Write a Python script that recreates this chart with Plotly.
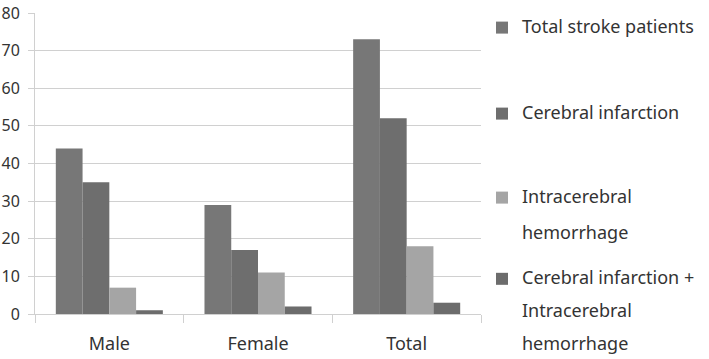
import plotly.graph_objects as go

categories = ["Male", "Female", "Total"]
series_lines = [
    ["Total stroke patients"],
    ["Cerebral infarction"],
    ["Intracerebral", "hemorrhage"],
    ["Cerebral infarction +", "Intracerebral", "hemorrhage"],
]
total_stroke = [44, 29, 73]
cerebral_infarction = [35, 17, 52]
intracerebral_hemorrhage = [7, 11, 18]
both = [1, 2, 3]
y_ticks = [0, 10, 20, 30, 40, 50, 60, 70, 80]

series_values = [total_stroke, cerebral_infarction, intracerebral_hemorrhage, both]
colors = ["#777777", "#6e6e6e", "#a5a5a5", "#6c6c6c"]
legend_ids = ["legend", "legend2", "legend3", "legend4"]

W, H = 709, 359
L, R, T, B = 35, 228, 13, 45
plot_h = H - T - B
plot_w = W - L - R

TEXT_SIZE = 18


def legend_name(lines):
    spans = ['<span style="font-size:%dpx">%s</span>' % (TEXT_SIZE, s) for s in lines]
    return "<br><br>".join(spans)


fig = go.Figure()
for lines, vals, col, lg in zip(series_lines, series_values, colors, legend_ids):
    fig.add_trace(go.Bar(x=categories, y=vals, name=legend_name(lines), marker_color=col,
                         marker_line_width=0, legend=lg))

font = dict(family="Noto Sans", size=TEXT_SIZE, color="#333333")
yfont = dict(family="Noto Sans", size=16, color="#333333")
legend_base_sizes = [14, 14, 14, 12.8]   # controls the line spacing of wrapped names
legend_centers = [27, 113, 197, 279]     # pixel y of first text line


def px(x):
    return (x - L) / plot_w


def py(y):
    return (H - B - y) / plot_h


legends = {}
for lg, yc, bs in zip(legend_ids, legend_centers, legend_base_sizes):
    legends[lg] = dict(
        x=px(482), xanchor="left",
        y=py(yc - 15), yanchor="top",
        bgcolor="rgba(0,0,0,0)",
        font=dict(family="Noto Sans", size=bs, color="#333333"),
        valign="top", itemsizing="constant",
    )

fig.update_layout(
    width=W, height=H,
    margin=dict(l=L, r=R, t=T, b=B, pad=0, autoexpand=False),
    paper_bgcolor="white", plot_bgcolor="white",
    barmode="group", bargap=0.28, bargroupgap=0,
    font=font,
    showlegend=True,
    **legends,
)
fig.update_xaxes(
    showgrid=False, showline=True, linecolor="#d0d0d0", linewidth=1,
    ticks="outside", tickson="boundaries", ticklen=8, tickcolor="#d0d0d0",
    ticklabelstandoff=13, tickfont=font,
)
fig.update_yaxes(
    range=[0, 80], tickvals=y_ticks, showgrid=True, gridcolor="#d0d0d0",
    gridwidth=1, zeroline=False, showline=True, linecolor="#d0d0d0",
    ticks="outside", ticklen=6, tickcolor="#d0d0d0",
    ticklabelstandoff=5, tickfont=yfont,
)
fig.write_html("out.html")
